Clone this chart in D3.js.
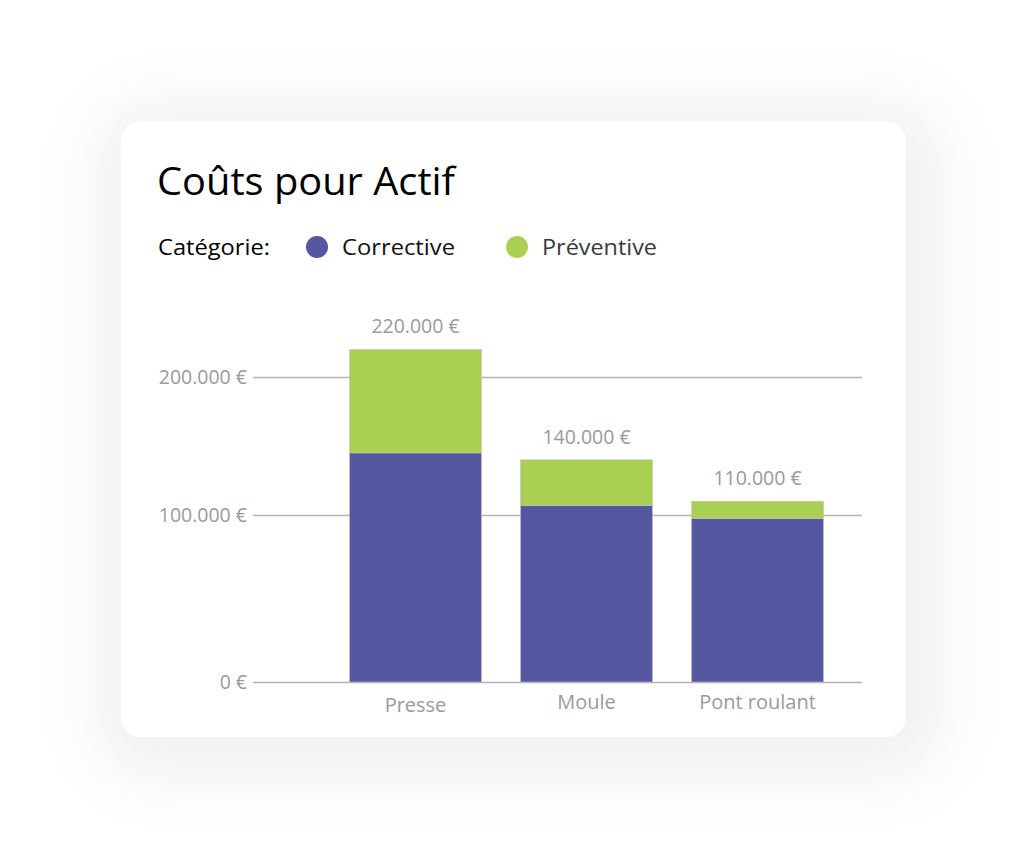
<!DOCTYPE html>
<html>
<head>
<meta charset="utf-8">
<script src="https://cdn.jsdelivr.net/npm/d3@7"></script>
<style>
  html, body { margin: 0; padding: 0; background: #ffffff; }
  svg { display: block; }
</style>
</head>
<body>
<svg id="chart" width="1027" height="859"></svg>
<script>
const categories = ["Presse", "Moule", "Pont roulant"];
const corrective = [145000, 107000, 98000];
const preventive = [75000, 33000, 12000];
const totalLabels = ["220.000 €", "140.000 €", "110.000 €"];
const tickValues = [0, 100000, 200000];
const tickLabels = ["0 €", "100.000 €", "200.000 €"];
const seriesNames = ["Corrective", "Préventive"];
const seriesColors = ["#5657A1", "#AAD053"];

const FONT = "'Open Sans', 'Noto Sans', sans-serif";
const svg = d3.select("#chart");

// card shadow
const defs = svg.append("defs");
const f = defs.append("filter").attr("id", "shadow")
  .attr("x", "-30%").attr("y", "-30%").attr("width", "160%").attr("height", "160%");
f.append("feGaussianBlur").attr("stdDeviation", 30);
svg.append("rect").attr("x", 95).attr("y", 100).attr("width", 850).attr("height", 680)
  .attr("rx", 60).attr("fill", "rgba(0,0,0,0.055)").attr("filter", "url(#shadow)");
svg.append("rect").attr("x", 121).attr("y", 121).attr("width", 785).attr("height", 616)
  .attr("rx", 20).attr("fill", "#ffffff");

// title
svg.append("text").attr("x", 157).attr("y", 195)
  .attr("font-family", FONT).attr("font-size", 38).attr("fill", "#000")
  .attr("textLength", 298).attr("lengthAdjust", "spacingAndGlyphs")
  .text("Coûts pour Actif");

// legend
svg.append("text").attr("x", 158).attr("y", 255)
  .attr("font-family", FONT).attr("font-size", 22).attr("fill", "#000")
  .attr("textLength", 112).attr("lengthAdjust", "spacingAndGlyphs")
  .text("Catégorie:");
const legendX = [317, 517];
const legendTextW = [113, 115];
const lg = svg.append("g").selectAll("g").data(seriesNames).join("g");
lg.append("circle").attr("cx", (d, i) => legendX[i]).attr("cy", 247).attr("r", 11)
  .attr("fill", (d, i) => seriesColors[i]);
lg.append("text").attr("x", (d, i) => legendX[i] + 25).attr("y", 255)
  .attr("font-family", FONT).attr("font-size", 22).attr("fill", (d, i) => i === 0 ? "#111" : "#3a3a3a")
  .attr("textLength", (d, i) => legendTextW[i]).attr("lengthAdjust", "spacingAndGlyphs")
  .text(d => d);

// scales
const x = d3.scaleBand().domain(categories).range([330, 843]).paddingInner(0.228).paddingOuter(0.114);
const y = d3.scaleLinear().domain(tickValues).range([682, 515, 377]);

// grid / axis
const axis = d3.axisLeft(y).tickValues(tickValues)
  .tickFormat((d, i) => tickLabels[i])
  .tickSize(-(862 - 253)).tickPadding(6);
const ag = svg.append("g").attr("transform", "translate(253,0)").call(axis);
ag.select(".domain").remove();
ag.selectAll(".tick line").attr("stroke", "#b3b3b3").attr("stroke-width", 1.6);
ag.selectAll(".tick text").attr("font-family", FONT).attr("font-size", 19.5)
  .attr("fill", "#9a9a9a");

// stacked bars
const rows = categories.map((c, i) => ({ cat: c, Corrective: corrective[i], "Préventive": preventive[i] }));
const stack = d3.stack().keys(seriesNames)(rows);
svg.append("g").selectAll("g").data(stack).join("g")
  .attr("fill", (d, i) => seriesColors[i])
  .selectAll("rect").data(d => d).join("rect")
  .attr("x", d => x(d.data.cat))
  .attr("width", x.bandwidth())
  .attr("y", d => y(d[1]))
  .attr("height", d => y(d[0]) - y(d[1]))
  .attr("stroke", "#c4c4c4").attr("stroke-width", 0.6);

// total labels
svg.append("g").selectAll("text").data(categories).join("text")
  .attr("x", d => x(d) + x.bandwidth() / 2)
  .attr("y", (d, i) => y(corrective[i] + preventive[i]) - 16)
  .attr("text-anchor", "middle")
  .attr("font-family", FONT).attr("font-size", 19.5).attr("fill", "#9a9a9a")
  .text((d, i) => totalLabels[i]);

// category labels
svg.append("g").selectAll("text").data(categories).join("text")
  .attr("x", d => x(d) + x.bandwidth() / 2)
  .attr("y", (d, i) => i === 0 ? 712 : 709)
  .attr("text-anchor", "middle")
  .attr("font-family", FONT).attr("font-size", 20).attr("fill", "#9a9a9a")
  .text(d => d);
</script>
</body>
</html>
